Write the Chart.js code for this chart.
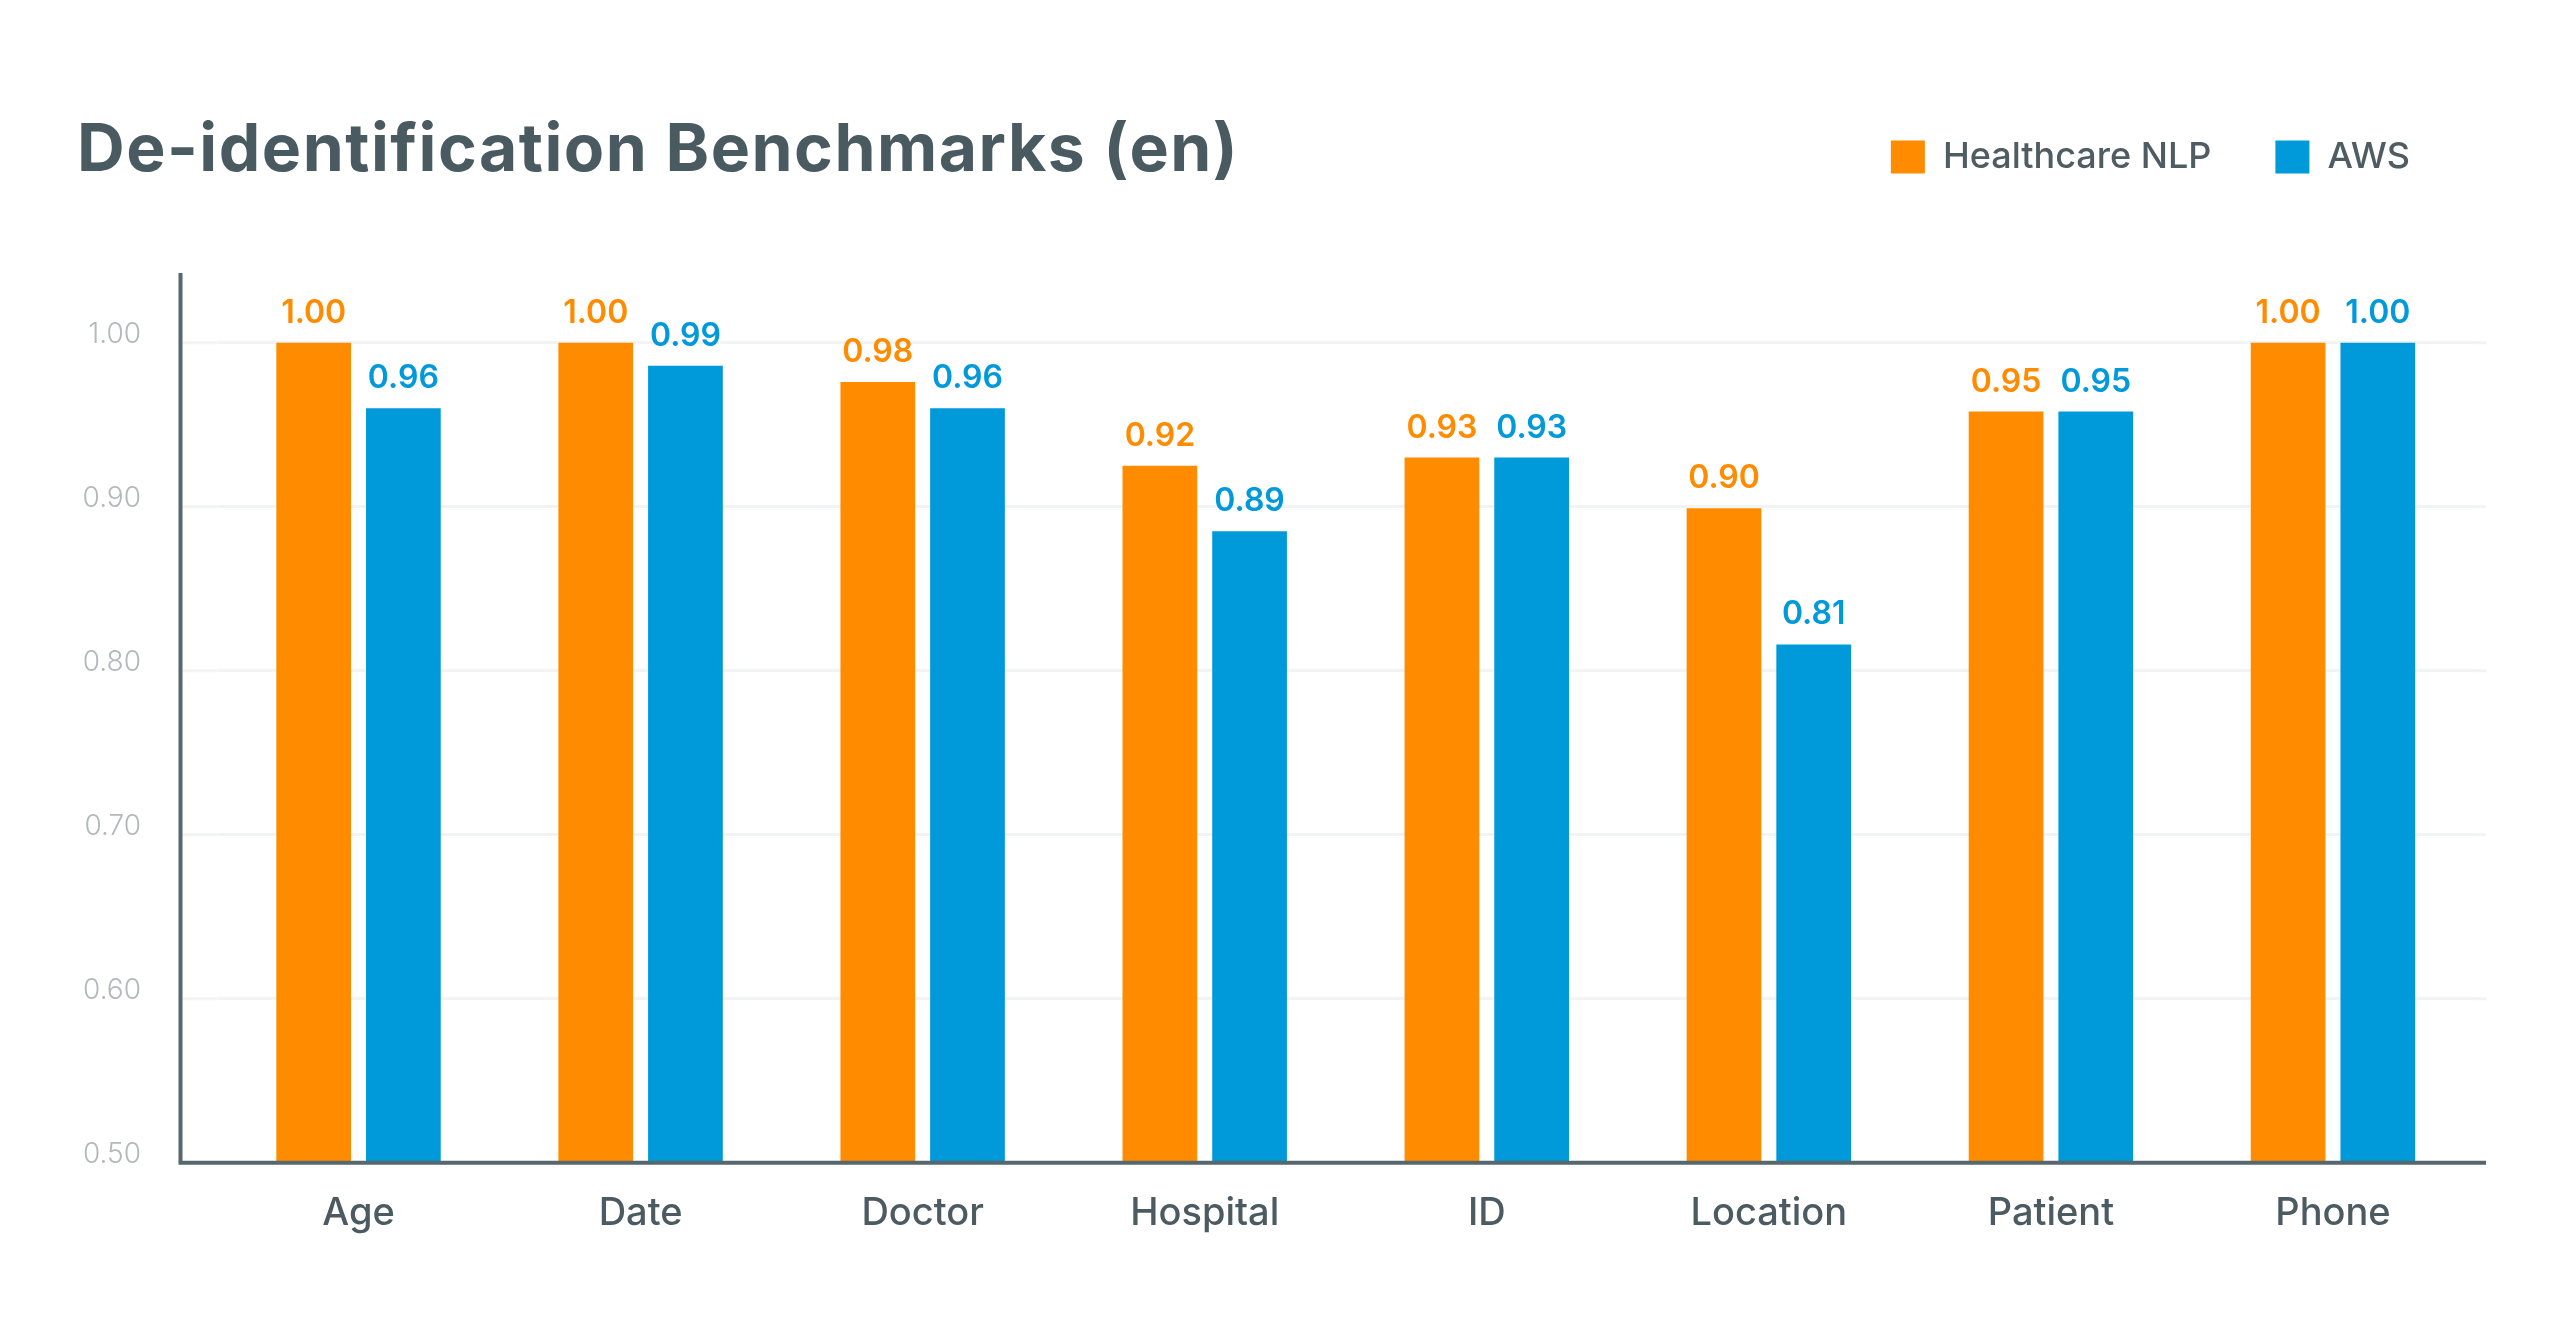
<!DOCTYPE html>
<html>
<head>
<meta charset="utf-8">
<title>De-identification Benchmarks (en)</title>
<script src="https://cdn.jsdelivr.net/npm/chart.js@4.4.1/dist/chart.umd.min.js"></script>
<style>
  html, body { margin: 0; padding: 0; background: #ffffff; overflow: hidden; }
  #wrap { position: relative; width: 2560px; height: 1340px; }
  #title {
    position: absolute; left: 77px; top: 114px; margin: 0;
    font-family: Inter, "Open Sans", sans-serif; font-weight: 700;
    font-size: 66px; line-height: 1; letter-spacing: 1.5px;
    color: #4a5a61; white-space: nowrap;
  }
</style>
</head>
<body>
<div id="wrap">
  <h1 id="title">De-identification Benchmarks (en)</h1>
  <canvas id="bar_chart_deid"></canvas>
</div>
<script>
// data
var categories = ["Age", "Date", "Doctor", "Hospital", "ID", "Location", "Patient", "Phone"];
var seriesNames = ["Healthcare NLP", "AWS"];
var nlpValues = [1.00, 1.00, 0.976, 0.925, 0.930, 0.899, 0.958, 1.00];
var awsValues = [0.960, 0.986, 0.960, 0.885, 0.930, 0.816, 0.958, 1.00];
// value texts printed above the bars
var nlpLabels = ["1.00", "1.00", "0.98", "0.92", "0.93", "0.90", "0.95", "1.00"];
var awsLabels = ["0.96", "0.99", "0.96", "0.89", "0.93", "0.81", "0.95", "1.00"];
var yTicks = [0.5, 0.6, 0.7, 0.8, 0.9, 1.0];

var colorNlp = "#ff8b00";
var colorAws = "#0099da";
var colorText = "#4c5b62";
var colorAxis = "#56676e";
var colorGrid = "#f2f3f3";
var fontFamily = "Inter, 'Open Sans', sans-serif";

// makes room between legend row and the plot
var legendSpacer = {
  id: "legendSpacer",
  beforeUpdate: function(chart) {
    var legend = chart.legend;
    if (legend && !legend._spaced) {
      var origFit = legend.fit;
      legend.fit = function() {
        origFit.call(this);
        this.height += 88;
      };
      legend._spaced = true;
    }
  }
};

// axis lines (and grid ends) drawn a bit outside the plot like the original
var axisLines = {
  id: "axisLines",
  beforeDatasetsDraw: function(chart) {
    var ctx = chart.ctx;
    var area = chart.chartArea;
    var yScale = chart.scales.y;
    ctx.save();
    ctx.strokeStyle = colorGrid;
    ctx.lineWidth = 3;
    ctx.beginPath();
    yTicks.forEach(function(v) {
      var py = yScale.getPixelForValue(v);
      ctx.moveTo(area.left - 37, py);
      ctx.lineTo(area.left, py);
      ctx.moveTo(area.right, py);
      ctx.lineTo(area.right + 12, py);
    });
    ctx.stroke();
    ctx.restore();
  },
  afterDatasetsDraw: function(chart) {
    var ctx = chart.ctx;
    var area = chart.chartArea;
    ctx.save();
    ctx.strokeStyle = colorAxis;
    ctx.lineWidth = 4;
    ctx.beginPath();
    ctx.moveTo(area.left - 37, area.top);
    ctx.lineTo(area.left - 37, area.bottom + 2);
    ctx.moveTo(area.left - 39, area.bottom);
    ctx.lineTo(area.right + 12, area.bottom);
    ctx.stroke();
    ctx.restore();
  }
};

// numbers above each bar
var valueLabels = {
  id: "valueLabels",
  afterDatasetsDraw: function(chart) {
    var ctx = chart.ctx;
    ctx.save();
    ctx.font = "600 32px " + fontFamily;
    ctx.textAlign = "center";
    ctx.textBaseline = "alphabetic";
    chart.data.datasets.forEach(function(ds, di) {
      var meta = chart.getDatasetMeta(di);
      ctx.fillStyle = ds.backgroundColor;
      meta.data.forEach(function(bar, i) {
        ctx.fillText(ds.valueTexts[i], bar.x, bar.y - 20);
      });
    });
    ctx.restore();
  }
};

function load() {
  var config = {
    type: "bar",
    data: {
      labels: categories,
      datasets: [{
        label: seriesNames[0],
        data: nlpValues,
        valueTexts: nlpLabels,
        backgroundColor: colorNlp,
        barPercentage: 0.833,
        categoryPercentage: 0.636
      }, {
        label: seriesNames[1],
        data: awsValues,
        valueTexts: awsLabels,
        backgroundColor: colorAws,
        barPercentage: 0.833,
        categoryPercentage: 0.636
      }]
    },
    options: {
      responsive: true,
      maintainAspectRatio: false,
      animation: false,
      layout: { padding: { top: 75, left: 77, right: 86, bottom: 0 } },
      plugins: {
        title: { display: false },
        tooltip: { enabled: false },
        legend: {
          position: "top",
          align: "end",
          labels: {
            boxWidth: 34,
            boxHeight: 33,
            padding: 64,
            color: "#4f5d63",
            font: { family: fontFamily, size: 36, weight: "500" }
          }
        }
      },
      scales: {
        x: {
          grid: { display: false },
          border: { display: false },
          ticks: {
            color: colorText,
            padding: 20,
            font: { family: fontFamily, size: 38, weight: "500" }
          },
          afterFit: function(scale) { scale.height = 177.3; }
        },
        y: {
          min: 0.5,
          max: 1.0425,
          border: { display: false },
          grid: { color: colorGrid, lineWidth: 3, drawTicks: false },
          afterBuildTicks: function(scale) {
            scale.ticks = yTicks.map(function(v) { return { value: v }; });
          },
          ticks: {
            color: "#b3b8ba",
            padding: 76.5,
            labelOffset: -8,
            font: { family: fontFamily, size: 28, weight: "300" },
            callback: function(value) { return Number(value).toFixed(2); }
          },
          afterFit: function(scale) { scale.width = 140.5; }
        }
      }
    },
    plugins: [legendSpacer, axisLines, valueLabels]
  };

  new Chart(document.getElementById("bar_chart_deid").getContext("2d"), config);
}

document.addEventListener("DOMContentLoaded", load, false);
</script>
</body>
</html>
